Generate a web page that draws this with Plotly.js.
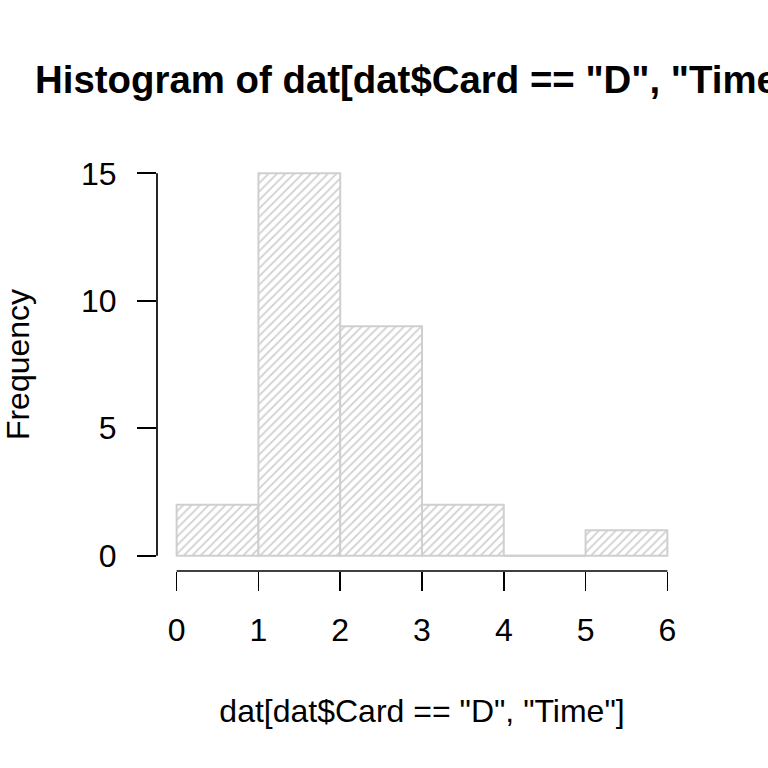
<!DOCTYPE html>
<html>
<head>
<meta charset="utf-8">
<script src="https://cdn.plot.ly/plotly-3.0.1.min.js"></script>
<style>html,body{margin:0;padding:0;background:#fff;}#chart{width:768px;height:768px;}</style>
</head>
<body>
<div id="chart"></div>
<script>
const binEdges = [0, 1, 2, 3, 4, 5, 6];
const counts = [2, 15, 9, 2, 0, 1];
const xTicks = [0, 1, 2, 3, 4, 5, 6];
const yTicks = [0, 5, 10, 15];
const titleText = 'Histogram of dat[dat$Card == "D", "Time"]';
const xLabel = 'dat[dat$Card == "D", "Time"]';
const yLabel = 'Frequency';

const centers = counts.map((c, i) => (binEdges[i] + binEdges[i + 1]) / 2);
const widths = counts.map((c, i) => binEdges[i + 1] - binEdges[i]);

const barColor = '#cfcfcf';
const font = 'Liberation Sans, Arial, Helvetica, sans-serif';

const traces = [{
  type: 'bar',
  x: centers,
  y: counts,
  width: widths,
  marker: {
    color: '#ffffff',
    line: {color: barColor, width: 2},
    pattern: {shape: '/', fgcolor: barColor, bgcolor: '#ffffff', size: 6, solidity: 0.28}
  },
  hoverinfo: 'x+y',
  showlegend: false
}];

// zero-count bins are drawn as a flat outline at 0
const zx = [], zy = [];
counts.forEach((c, i) => {
  if (c === 0) { zx.push(binEdges[i], binEdges[i + 1], null); zy.push(0, 0, null); }
});
traces.push({
  type: 'scatter', mode: 'lines', x: zx, y: zy,
  line: {color: barColor, width: 2}, hoverinfo: 'skip', showlegend: false
});

const span = (a) => a[a.length - 1] - a[0];
const xr = [xTicks[0] - 0.04 * span(xTicks), xTicks[xTicks.length - 1] + 0.04 * span(xTicks)];
const yMax = Math.max(...counts);
const yr = [0 - 0.04 * yMax, yMax + 0.04 * yMax];

const layout = {
  width: 768, height: 768,
  margin: {l: 157, r: 81, t: 158, b: 197},
  paper_bgcolor: '#fff', plot_bgcolor: '#fff',
  font: {family: font, color: '#000', size: 32},
  title: {
    text: '<b>' + titleText + '</b>',
    font: {family: font, size: 38.4, color: '#000'},
    xref: 'paper', x: 0.5, xanchor: 'center',
    yref: 'container', y: 1 - 80 / 768, yanchor: 'middle'
  },
  xaxis: {
    range: xr, tickvals: xTicks, ticktext: xTicks.map(String),
    showgrid: false, zeroline: false, showline: false,
    ticks: 'outside', ticklen: 19, tickwidth: 1.7, tickcolor: '#000',
    tickfont: {family: font, size: 32},
    ticklabelstandoff: 12,
    title: {text: xLabel, font: {family: font, size: 32}, standoff: 52}
  },
  yaxis: {
    range: yr, tickvals: yTicks, ticktext: yTicks.map(String),
    showgrid: false, zeroline: false, showline: false,
    ticks: 'outside', ticklen: 19, tickwidth: 1.7, tickcolor: '#000',
    tickfont: {family: font, size: 32},
    ticklabelstandoff: 14,
    title: {text: yLabel, font: {family: font, size: 32}, standoff: 48}
  },
  shapes: [
    {type: 'line', xref: 'x', yref: 'paper', x0: xTicks[0], x1: xTicks[xTicks.length - 1], y0: 0, y1: 0,
     line: {color: '#000', width: 1.7}},
    {type: 'line', xref: 'paper', yref: 'y', x0: 0, x1: 0, y0: yTicks[0], y1: yTicks[yTicks.length - 1],
     line: {color: '#000', width: 1.7}}
  ],
  bargap: 0
};

Plotly.newPlot('chart', traces, layout, {displayModeBar: false, staticPlot: true});
</script>
</body>
</html>
